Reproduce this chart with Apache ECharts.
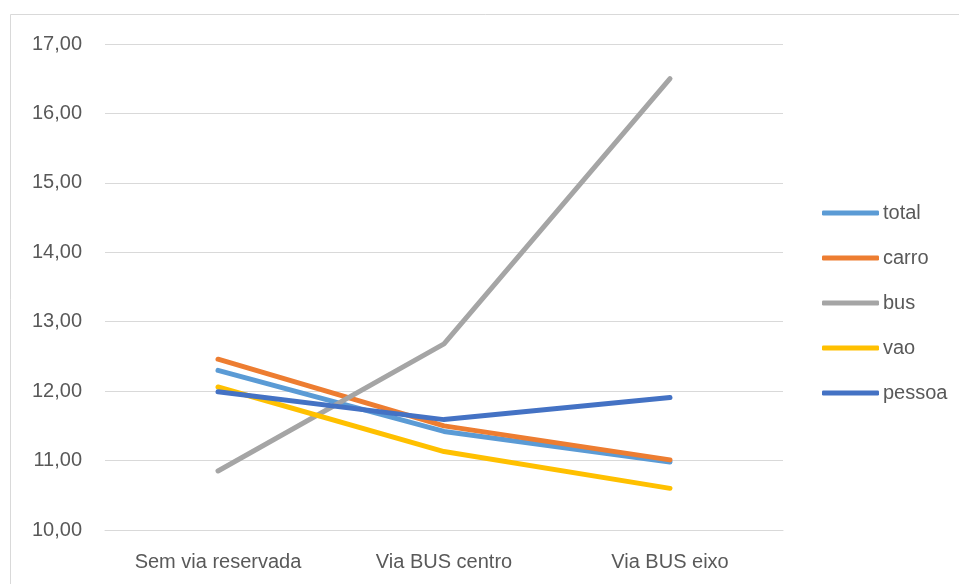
<!DOCTYPE html>
<html>
<head>
<meta charset="utf-8">
<script src="https://cdn.jsdelivr.net/npm/echarts@6/dist/echarts.min.js"></script>
<style>
  html, body { margin: 0; padding: 0; background: #ffffff; }
  #chart { width: 959px; height: 584px; }
</style>
</head>
<body>
<div id="chart"></div>
<script>
// Scenario categories along the x axis
const categories = ['Sem via reservada', 'Via BUS centro', 'Via BUS eixo'];

// Values per mode
const total  = [12.30, 11.42, 10.98];
const carro  = [12.46, 11.50, 11.01];
const bus    = [10.85, 12.68, 16.50];
const vao    = [12.06, 11.13, 10.60];
const pessoa = [11.99, 11.59, 11.91];

const seriesNames  = ['total', 'carro', 'bus', 'vao', 'pessoa'];
const seriesData   = [total, carro, bus, vao, pessoa];
const seriesColors = ['#5B9BD5', '#ED7D31', '#A5A5A5', '#FFC000', '#4472C4'];

// Y axis range
const yMin = 10, yMax = 17, yStep = 1;

const textColor = '#595959';
const fontFamily = '"Liberation Sans", Arial, sans-serif';

const chart = echarts.init(document.getElementById('chart'), null, { renderer: 'canvas' });

chart.setOption({
  backgroundColor: '#ffffff',
  animation: false,
  graphic: [{
    type: 'rect',
    shape: { x: 10.5, y: 14.5, width: 1000, height: 1000 },
    style: { fill: 'none', stroke: '#D9D9D9', lineWidth: 1 },
    silent: true
  }],
  grid: { left: 105, right: 176, top: 44, bottom: 54, containLabel: false },
  xAxis: {
    type: 'category',
    data: categories,
    boundaryGap: true,
    axisLine: { show: true, lineStyle: { color: '#D9D9D9', width: 1 } },
    axisTick: { show: false },
    axisLabel: { color: textColor, fontSize: 20, fontFamily: fontFamily, margin: 22 },
    splitLine: { show: false }
  },
  yAxis: {
    type: 'value',
    min: yMin,
    max: yMax,
    interval: yStep,
    axisLine: { show: false },
    axisTick: { show: false },
    axisLabel: {
      color: textColor, fontSize: 20, fontFamily: fontFamily, margin: 23,
      formatter: v => v.toFixed(2).replace('.', ',')
    },
    splitLine: { show: true, lineStyle: { color: '#D9D9D9', width: 1 } }
  },
  legend: {
    orient: 'vertical',
    left: 822,
    top: 203,
    padding: 0,
    itemWidth: 57,
    itemHeight: 5,
    itemGap: 25,
    icon: 'roundRect',
    textStyle: { color: textColor, fontSize: 20, fontFamily: fontFamily, padding: [0, 0, 0, -1] },
    data: seriesNames
  },
  series: seriesNames.map((name, i) => ({
    name: name,
    type: 'line',
    data: seriesData[i],
    symbol: 'none',
    smooth: false,
    z: 2 + i,
    color: seriesColors[i],
    lineStyle: { color: seriesColors[i], width: 5, cap: 'round', join: 'round' }
  }))
});
</script>
</body>
</html>
